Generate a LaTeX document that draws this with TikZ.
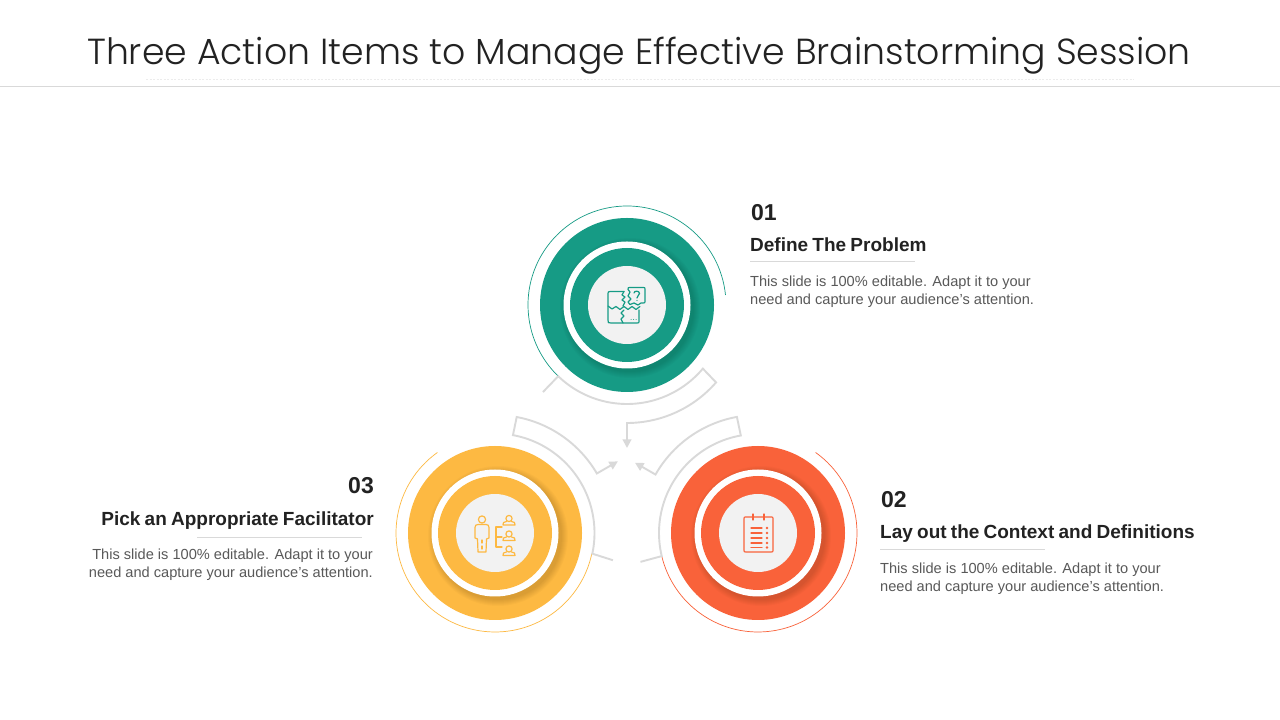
\documentclass[tikz,border=0pt]{standalone}
\usepackage{fontspec}
\usetikzlibrary{calc,arrows.meta}
\setmainfont{Liberation Sans}
\newfontfamily\titlef[UprightFont={* Light}]{Poppins}
\newfontfamily\headf[WordSpace=0.8]{Liberation Sans}
\definecolor{teal1}{HTML}{169B85}
\definecolor{orange1}{HTML}{F9623A}
\definecolor{yellow1}{HTML}{FDB942}
\definecolor{grayarc}{HTML}{D9D9D9}
\definecolor{centergray}{HTML}{F2F2F2}
\definecolor{bodygray}{HTML}{595959}
\definecolor{inkdark}{HTML}{222222}
\tikzset{
 x=1pt,y=1pt,
 disc/.style={circle,inner sep=0pt,outer sep=0pt,minimum size=#1},
 flowarc/.style={draw=grayarc,line width=1.9pt,line join=miter},
 flowtip/.style={-{Triangle[length=8.5pt,width=8.5pt,fill=grayarc]}},
 thinarc/.style={line width=0.7pt},
 numlabel/.style={inner sep=0pt,font=\fontsize{23}{26}\selectfont\bfseries,text=inkdark},
 headlabel/.style={inner sep=0pt,font=\headf\fontsize{19}{22}\selectfont\bfseries,text=inkdark},
 bodylabel/.style={inner sep=0pt,font=\fontsize{14.6}{18}\selectfont,text=bodygray},
 seprule/.style={draw=grayarc,line width=0.7pt},
 iconline/.style={line width=1.2pt,line join=round,line cap=round,fill=none},
}
\newcommand{\rings}[3]{% name, x y coordinate, colour
 \node[disc=174pt,fill=#3] (#1outer) at (#2) {};
 \foreach \s in {70,69,68,67,66,65,64}{
  \fill[black,opacity=.02] ($(#2)+(3,3)$) circle (\s);
 }
 \node[disc=127pt,fill=white] (#1ring) at (#2) {};
 \node[disc=114pt,fill=#3] (#1inner) at (#2) {};
 \node[disc=78pt,fill=centergray] (#1center) at (#2) {};
}
\begin{document}
\begin{tikzpicture}
\useasboundingbox (0,0) rectangle (1280,720);
\fill[white] (0,0) rectangle (1280,720);
\begin{scope}[shift={(0,720)},yscale=-1]
 \coordinate (c1) at (627,305);
 \coordinate (c2) at (758,533);
 \coordinate (c3) at (495,533);
 \node[inner sep=0pt,text=inkdark,font=\titlef\fontsize{36.25}{44}\selectfont] (title) at (639,55.5) {Three Action Items to Manage Effective Brainstorming Session};
 \draw[draw=grayarc,line width=0.8pt] (0,86.5) -- (1280,86.5);
 \draw[draw=grayarc!50,line width=0.6pt,dashed,dash pattern=on 2pt off 1.5pt] (146,79) -- (1134,79);
 \rings{a}{c1}{teal1}
 \rings{b}{c2}{orange1}
 \rings{d}{c3}{yellow1}
 % text 01
 \node[numlabel,anchor=base west] (n1) at (751,221) {01};
 \node[headlabel,anchor=base west] (h1) at (750,252) {Define The Problem};
 \draw[seprule] (750,261) -- (915,261);
 \node[bodylabel,anchor=north west,align=left] (t1) at (750,275.5) {This slide is 100\% editable.  Adapt it to your\\need and capture your audience’s attention.};
 % text 02
 \node[numlabel,anchor=base west] (n2) at (881,508) {02};
 \node[headlabel,anchor=base west] (h2) at (880,539) {Lay out the Context and Definitions};
 \draw[seprule] (880,549) -- (1045,549);
 \node[bodylabel,anchor=north west,align=left] (t2) at (880,562.5) {This slide is 100\% editable.  Adapt it to your\\need and capture your audience’s attention.};
 % text 03
 \node[numlabel,anchor=base east] (n3) at (374,494) {03};
 \node[headlabel,anchor=base east] (h3) at (374,526) {Pick an Appropriate Facilitator};
 \draw[seprule] (197,537) -- (362,537);
 \node[bodylabel,anchor=north east,align=right] (t3) at (373,548.5) {This slide is 100\% editable.  Adapt it to your\\need and capture your audience’s attention.};
 % puzzle icon
 \begin{scope}[teal1,iconline]
  \draw[iconline] (624,291.5) -- (610,291.5) .. controls (608,291.5) and (608,292) .. (608,294) -- (608,320) .. controls (608,323) and (608,323) .. (611,323) -- (637,323) .. controls (639,323) and (639,323) .. (639,321) -- (639,310);
  \draw[iconline] (624,291.5) -- (622,295) -- (625,297) -- (622,300) -- (625,302) -- (623,306);
  \draw[iconline] (608,306) -- (612,309) -- (616,306.5) -- (620,309.5) -- (624,306.5) -- (628,309.5) -- (632,306.5) -- (636,309.5) -- (640,306.5);
  \draw[iconline] (624,310) -- (621,313) -- (624,316) -- (621,319) -- (623,323);
  \draw[iconline] (628,302) -- (631,299) -- (628,296) -- (630,292) -- (628,289.5) .. controls (628,287.5) and (628,287.5) .. (630,287.5) -- (643,287.5) .. controls (645,287.5) and (645,287.5) .. (645,289.5) -- (645,301) .. controls (645,303) and (645,303) .. (643,303) -- (641,303) -- (638,305) -- (634,303) -- (630,304.5) -- (628,302);
  \draw[iconline] (634,293) .. controls (634,290.5) and (639.5,290.5) .. (639.5,293.5) .. controls (639.5,295.5) and (637,295.5) .. (637,298);
  \fill (637,300.5) circle (0.7);
  \fill (631,319.5) circle (0.5) (633.5,319.5) circle (0.5) (636,319.5) circle (0.5);
 \end{scope}
 % notepad icon
 \begin{scope}[orange1]
  \draw[iconline] (746,517) -- (771,517) .. controls (773,517) and (773,517) .. (773,519) -- (773,550) .. controls (773,552) and (773,552) .. (771,552) -- (746,552) .. controls (744,552) and (744,552) .. (744,550) -- (744,519) .. controls (744,517) and (744,517) .. (746,517) -- cycle;
  \draw[iconline] (753,514) -- (753,520);
  \draw[iconline] (764,514) -- (764,520);
  \foreach \yy in {528,533,538,543,547.5}{
   \draw[iconline] (751,\yy) -- (762,\yy);
   \fill[orange1] (767,\yy) circle (1.4);
  }
 \end{scope}
 % people icon
 \begin{scope}[yellow1]
  \draw[iconline] (482,519.5) circle (3.6);
  \draw[iconline] (478,524.5) -- (486,524.5) .. controls (488,524.5) and (489,525.5) .. (489,527.5) -- (489,538) -- (486.5,539) -- (486,552) -- (478,552) -- (477.5,539) -- (475,538) -- (475,527.5) .. controls (475,525.5) and (476,524.5) .. (478,524.5) -- cycle;
  \draw[iconline] (482,540) -- (482,543);
  \draw[iconline] (482,546) -- (482,549);
  \draw[iconline] (502,527) -- (496,527) -- (496,547) -- (502,547);
  \draw[iconline] (496,537) -- (502,537);
  \foreach \yy in {518.5,534,549}{
   \draw[iconline] (509,\yy) circle (3.1);
   \draw[iconline] (506.5,\yy+3) -- (503.5,\yy+4) -- (503,\yy+6.5) -- (515,\yy+6.5) -- (514.5,\yy+4) -- (511.5,\yy+3);
  }
 \end{scope}
\end{scope}
% thin arcs
\draw[teal1,thinarc] ($(c1)+(5.8:99)$) arc[start angle=5.8,end angle=226,radius=99];
\draw[yellow1,thinarc] ($(c3)+(125.6:99)$) arc[start angle=125.6,end angle=348,radius=99];
\draw[orange1,thinarc] ($(c2)+(54.4:99)$) arc[start angle=54.4,end angle=-166.5,radius=99];
% grey flow arcs
\draw[flowarc,flowtip] ($(c1)+(226:121)$) -- ($(c1)+(226:99)$) arc[start angle=226,end angle=320,radius=99] -- ($(c1)+(319:118)$) arc[start angle=319,end angle=270,radius=118] -- ++(0,-25);
\draw[flowarc,flowtip] ($(c3)+(-13:121)$) -- ($(c3)+(-12:99.5)$) arc[start angle=-12,end angle=79.6,radius=99.5] -- ($(c3)+(79.4:118)$) arc[start angle=79.4,end angle=30.3,radius=118] -- ++(21,12.1);
\draw[flowarc,flowtip] ($(c2)+(193.8:121)$) -- ($(c2)+(193.5:99)$) arc[start angle=193.5,end angle=100,radius=99] -- ($(c2)+(100.3:118)$) arc[start angle=100.3,end angle=150.3,radius=118] -- ++(-20.5,11.8);
\end{tikzpicture}
\end{document}
